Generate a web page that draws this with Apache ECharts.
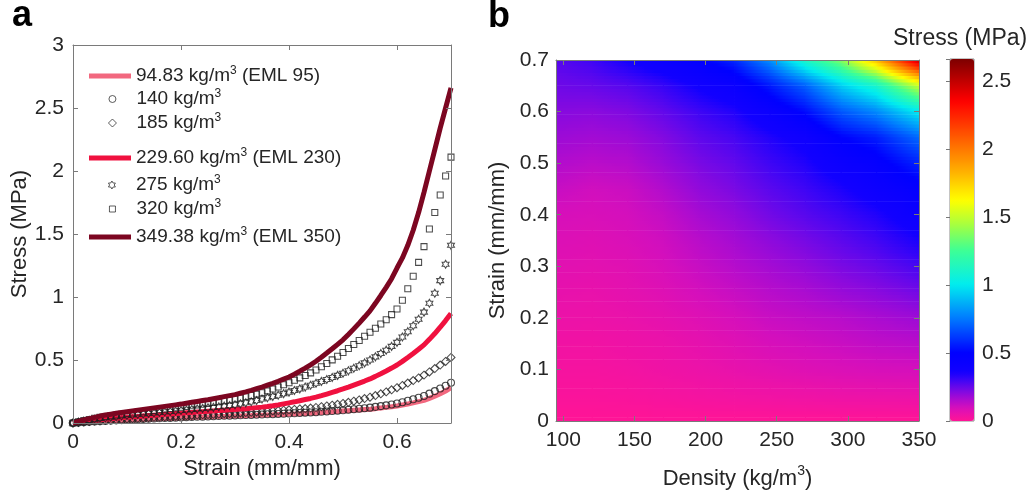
<!DOCTYPE html>
<html><head><meta charset="utf-8">
<script src="https://cdn.jsdelivr.net/npm/echarts@6/dist/echarts.min.js"></script>
<style>html,body{margin:0;padding:0;background:#fff}#c{width:1036px;height:499px}</style>
</head><body><div id="c"></div>
<script>
// ---------- DATA, panel a ----------
const strain = [0,0.01,0.02,0.03,0.04,0.05,0.06,0.07,0.08,0.09,0.1,0.11,0.12,0.13,0.14,0.15,0.16,0.17,0.18,0.19,0.2,0.21,0.22,0.23,0.24,0.25,0.26,0.27,0.28,0.29,0.3,0.31,0.32,0.33,0.34,0.35,0.36,0.37,0.38,0.39,0.4,0.41,0.42,0.43,0.44,0.45,0.46,0.47,0.48,0.49,0.5,0.51,0.52,0.53,0.54,0.55,0.56,0.57,0.58,0.59,0.6,0.61,0.62,0.63,0.64,0.65,0.66,0.67,0.68,0.69,0.7];
const seriesNames = ['94.83 kg/m3 (EML 95)','140 kg/m3','185 kg/m3','229.60 kg/m3 (EML 230)','275 kg/m3','320 kg/m3','349.38 kg/m3 (EML 350)'];
const stress95 = [0,.003,.006,.008,.010,.012,.014,.016,.018,.020,
.022,.024,.026,.027,.029,.031,.033,.035,.036,.038,
.040,.042,.043,.045,.046,.048,.049,.051,.052,.054,
.055,.056,.058,.059,.061,.062,.064,.065,.067,.068,
.070,.072,.074,.076,.078,.080,.083,.086,.089,.092,
.095,.098,.101,.104,.107,.110,.114,.119,.124,.129,
.135,.143,.151,.160,.170,.180,.196,.213,.232,.254,.280];
const stress140 = [0,.003,.006,.009,.012,.014,.016,.019,.021,.023,
.025,.027,.029,.031,.033,.035,.037,.039,.040,.042,
.044,.046,.047,.049,.050,.052,.054,.055,.057,.058,
.060,.061,.063,.064,.066,.067,.069,.070,.072,.073,
.075,.077,.080,.082,.084,.086,.089,.092,.095,.098,
.101,.105,.109,.113,.117,.122,.128,.134,.140,.147,
.155,.165,.176,.188,.201,.215,.233,.253,.274,.296,.320];
const stress185 = [0,.004,.008,.011,.015,.018,.021,.024,.027,.029,
.032,.035,.037,.040,.042,.045,.047,.049,.052,.054,
.056,.058,.060,.063,.065,.067,.069,.071,.074,.076,
.078,.080,.083,.085,.088,.090,.093,.096,.099,.102,
.105,.108,.112,.115,.119,.123,.129,.135,.141,.148,
.155,.164,.173,.183,.194,.205,.218,.232,.247,.263,
.280,.298,.317,.337,.358,.380,.405,.432,.460,.489,.520];
const stress230 = [0,.006,.011,.016,.021,.025,.029,.033,.037,.041,
.045,.049,.052,.056,.059,.062,.065,.069,.072,.075,
.078,.081,.084,.087,.090,.093,.096,.099,.102,.105,
.108,.111,.114,.118,.122,.126,.131,.137,.144,.152,
.160,.168,.177,.186,.195,.205,.217,.230,.243,.256,
.270,.285,.301,.317,.333,.350,.370,.391,.413,.436,
.460,.489,.520,.552,.585,.620,.664,.710,.760,.813,.870];
const stress275 = [0,.008,.015,.022,.029,.035,.040,.045,.050,.055,
.060,.064,.068,.072,.076,.080,.084,.088,.092,.096,
.100,.104,.108,.112,.116,.120,.124,.129,.134,.139,
.145,.152,.160,.169,.179,.190,.200,.210,.221,.233,
.245,.258,.271,.285,.300,.315,.330,.345,.361,.378,
.395,.414,.434,.455,.477,.500,.525,.551,.578,.608,
.640,.683,.725,.772,.824,.880,.950,1.030,1.130,1.260,1.410];
const stress320 = [0,.010,.019,.028,.037,.045,.051,.057,.063,.069,
.075,.080,.085,.090,.095,.100,.105,.110,.115,.120,
.125,.131,.137,.143,.149,.155,.162,.169,.176,.183,
.190,.199,.208,.218,.229,.240,.255,.270,.286,.303,
.320,.339,.358,.377,.398,.420,.446,.473,.501,.530,
.560,.591,.623,.655,.688,.720,.752,.785,.820,.860,
.905,.975,1.065,1.165,1.275,1.400,1.540,1.670,1.810,1.960,2.110];
const stress350 = [0,.012,.024,.035,.045,.055,.063,.070,.077,.084,
.090,.096,.102,.108,.114,.120,.126,.132,.138,.144,
.150,.157,.164,.171,.178,.185,.193,.201,.209,.217,
.225,.236,.247,.259,.272,.285,.300,.315,.331,.348,
.365,.387,.411,.436,.462,.490,.522,.555,.589,.624,
.660,.703,.747,.793,.841,.890,.950,1.012,1.077,1.145,
1.230,1.310,1.410,1.530,1.670,1.830,2.000,2.170,2.340,2.500,2.660];
const xTicksA = [0, 0.2, 0.4, 0.6];

const heatDensity = [95, 120, 145, 170, 195, 220, 245, 270, 295, 320, 350];
const heatStrain = [0, 0.05, 0.1, 0.15, 0.2, 0.25, 0.3, 0.35, 0.4, 0.45, 0.5, 0.55, 0.6, 0.65, 0.7];
const heatAt000 = [0,0,0,0,0,0,0,0,0,0,0];
const heatAt005 = [0.015,0.015,0.018,0.024,0.030,0.035,0.040,0.045,0.050,0.053,0.056];
const heatAt010 = [0.027,0.026,0.032,0.042,0.050,0.060,0.070,0.080,0.088,0.095,0.100];
const heatAt015 = [0.038,0.037,0.045,0.053,0.064,0.078,0.095,0.105,0.117,0.130,0.140];
const heatAt020 = [0.050,0.050,0.056,0.066,0.080,0.097,0.118,0.130,0.142,0.160,0.180];
const heatAt025 = [0.061,0.058,0.067,0.080,0.100,0.120,0.142,0.160,0.185,0.205,0.235];
const heatAt030 = [0.073,0.070,0.077,0.095,0.120,0.145,0.170,0.195,0.225,0.250,0.290];
const heatAt035 = [0.084,0.080,0.090,0.108,0.140,0.168,0.200,0.230,0.262,0.295,0.350];
const heatAt040 = [0.095,0.092,0.100,0.125,0.165,0.195,0.235,0.268,0.300,0.340,0.410];
const heatAt045 = [0.120,0.105,0.115,0.150,0.195,0.225,0.265,0.300,0.345,0.400,0.470];
const heatAt050 = [0.150,0.138,0.148,0.185,0.225,0.255,0.300,0.340,0.410,0.465,0.570];
const heatAt055 = [0.180,0.172,0.182,0.215,0.260,0.290,0.340,0.390,0.500,0.560,0.720];
const heatAt060 = [0.210,0.205,0.220,0.255,0.300,0.340,0.420,0.520,0.680,0.790,1.000];
const heatAt065 = [0.240,0.250,0.270,0.310,0.370,0.420,0.550,0.700,0.930,1.100,1.500];
const heatAt070 = [0.270,0.300,0.360,0.420,0.480,0.580,0.800,1.120,1.380,1.800,2.500];
const colorbarTicks = [0, 0.5, 1, 1.5, 2, 2.5];
const stressMax = 2.66;

// ---------- STYLE ----------
const FONT = '"Liberation Sans", Arial, Helvetica, sans-serif';
const TXT = '#262626';
const AXC = '#7a7a7a';
const lineColors = {0:'#f2687f', 3:'#f0113f', 6:'#7c0621'};
const markerShapes = {1:'circle', 2:'diamond', 4:'path://M0,-10L2.887,-5L8.66,-5L5.774,0L8.66,5L2.887,5L0,10L-2.887,5L-8.66,5L-5.774,0L-8.66,-5L-2.887,-5Z', 5:'rect'};
const markerSizes = {1:7, 2:8, 4:8, 5:6};
const legendCenters = [76, 99, 123, 158, 185, 209, 237];
const cmapStops = [[0,[255,20,150]],[0.05,[236,18,168]],[0.1,[212,15,188]],[0.15,[178,12,205]],[0.2,[142,10,220]],[0.25,[102,8,234]],[0.3,[62,5,245]],[0.36,[18,0,255]],[0.5,[0,0,255]],[0.75,[0,120,255]],[1.0,[0,236,240]],[1.25,[60,255,150]],[1.45,[170,255,60]],[1.62,[255,255,0]],[1.85,[255,170,0]],[2.1,[255,85,0]],[2.35,[255,0,0]],[2.66,[125,0,0]]];
function cmap(v){
  if (v <= cmapStops[0][0]) return 'rgb(' + cmapStops[0][1].join(',') + ')';
  for (let i = 1; i < cmapStops.length; i++){
    if (v <= cmapStops[i][0]){
      const a = cmapStops[i-1], b = cmapStops[i];
      const t = (v - a[0]) / (b[0] - a[0]);
      const c = a[1].map((ch, k) => Math.round(ch + t * (b[1][k] - ch)));
      return 'rgb(' + c.join(',') + ')';
    }
  }
  return 'rgb(' + cmapStops[cmapStops.length-1][1].join(',') + ')';
}
const cbColors = [];
for (let k = 0; k < 80; k++) cbColors.push(cmap(k / 79 * stressMax));

const allStress = [stress95, stress140, stress185, stress230, stress275, stress320, stress350];
const heatRows = [heatAt000, heatAt005, heatAt010, heatAt015, heatAt020, heatAt025, heatAt030, heatAt035, heatAt040, heatAt045, heatAt050, heatAt055, heatAt060, heatAt065, heatAt070];

// ---------- SERIES ----------
const series = [];
allStress.forEach((arr, idx) => {
  const data = strain.map((s, i) => [s, arr[i]]);
  if (lineColors[idx]) {
    series.push({type:'line', name: seriesNames[idx], xAxisIndex:0, yAxisIndex:0, data, showSymbol:false, symbol:'none',
      color: lineColors[idx], lineStyle:{width:5, color: lineColors[idx]}, z: 2 + idx*0.1, emphasis:{disabled:true}});
  } else {
    series.push({type:'scatter', name: seriesNames[idx], xAxisIndex:0, yAxisIndex:0, data,
      symbol: markerShapes[idx], symbolSize: markerSizes[idx], symbolKeepAspect: true,
      itemStyle:{color:'rgba(0,0,0,0)', borderColor:'#1e1e1e', borderWidth:1.05}, z: 2 + idx*0.1, emphasis:{disabled:true}});
  }
});
// map cells: [dLeft, dRight, sLow, sHigh, vLL, vRL, vLH, vRH]
const heatData = [];
for (let j = 0; j < heatStrain.length - 1; j++) {
  for (let i = 0; i < heatDensity.length - 1; i++) {
    heatData.push([heatDensity[i], heatDensity[i+1], heatStrain[j], heatStrain[j+1],
      heatRows[j][i], heatRows[j][i+1], heatRows[j+1][i], heatRows[j+1][i+1]]);
  }
}
const firstD = heatDensity[0], lastD = heatDensity[heatDensity.length - 1];
const lastS = heatStrain[heatStrain.length - 1];
series.push({
  type:'custom', name:'field', xAxisIndex:2, yAxisIndex:2, data: heatData, clip: true, silent: true,
  encode: {x: [0, 1], y: [2, 3]},
  renderItem: function(params, api){
    const cs = params.coordSys;
    const dA = api.value(0), dB = api.value(1), sA = api.value(2), sB = api.value(3);
    const vLL = api.value(4), vRL = api.value(5), vLH = api.value(6), vRH = api.value(7);
    const pA = api.coord([dA, sA]), pB = api.coord([dB, sB]);
    const x0 = dA <= firstD ? cs.x : pA[0];
    const x1 = dB >= lastD ? cs.x + cs.width : Math.min(pB[0] + 0.8, cs.x + cs.width);
    const yBot = pA[1], yTop = sB >= lastS ? cs.y : pB[1];
    const N = 8, hStep = (yBot - yTop) / N;
    const children = [];
    for (let r = 0; r < N; r++) {
      const f = (r + 0.5) / N;
      const vl = vLL + f * (vLH - vLL), vr = vRL + f * (vRH - vRL);
      const stops = [];
      for (let k = 0; k <= 8; k++) { const t = k / 8; stops.push({offset: t, color: cmap(vl + t * (vr - vl))}); }
      const yy = Math.max(yBot - (r + 1) * hStep - 0.6, cs.y);
      children.push({type:'rect', shape:{x:x0, y:yy, width:x1 - x0, height: yBot - r * hStep - yy},
        style:{fill: new echarts.graphic.LinearGradient(0, 0, 1, 0, stops)}});
    }
    return {type:'group', children};
  }
});

// ---------- LEGENDS (panel a, one per row) ----------
function supFmt(name){ return '{t|' + name.replace('kg/m3', 'kg/m}{sup|3}{t|') + '}'; }
const TEXT_START = 136;
const legends = seriesNames.map((nm, idx) => {
  const isLine = !!lineColors[idx];
  const w = isLine ? 42 : markerSizes[idx];
  const left = isLine ? 89 : 112 - w / 2;
  const pad = Math.max(0, TEXT_START - (left + w + 5));
  const rich = {
    p: {width: pad, fontSize: 19, lineHeight: 22},
    t: {fontSize: 19, fontFamily: FONT, color: TXT, lineHeight: 22},
    sup: {fontSize: 12, fontFamily: FONT, color: TXT, lineHeight: 11, verticalAlign: 'top'}
  };
  return {
    left: left, top: legendCenters[idx] - 11, padding: 0, selectedMode: false,
    itemWidth: w, itemHeight: isLine ? 5 : w,
    formatter: n => (pad > 0 ? '{p| }' : '') + supFmt(n),
    textStyle: {rich: rich, fontSize: 19, color: TXT, fontFamily: FONT},
    data: [isLine
      ? {name: nm, icon: 'rect', itemStyle: {color: lineColors[idx], borderWidth: 0}}
      : {name: nm, icon: markerShapes[idx], itemStyle: {color: 'rgba(0,0,0,0)', borderColor: '#1e1e1e', borderWidth: 0.9}}]
  };
});

// ---------- AXES ----------
function ax(o){
  return Object.assign({
    type:'value', splitLine:{show:false}, z: 10,
    axisLine:{show:true, onZero:false, lineStyle:{color:AXC, width:1}},
    axisTick:{show:true, inside:true, length:5, lineStyle:{color:AXC}},
    axisLabel:{show:false}
  }, o);
}
const lbl = (extra) => Object.assign({show:true, color:TXT, fontSize:21, fontFamily:FONT}, extra);
const nameStyle = {fontSize:22, color:TXT, fontFamily:FONT};

const option = {
  animation: false,
  backgroundColor: '#fff',
  textStyle: {fontFamily: FONT, color: TXT},
  title: [
    {text:'a', left: 12, top: -2, padding: 0, textStyle:{fontSize:36, fontWeight:'bold', color:'#000', fontFamily: FONT}},
    {text:'b', left: 488, top: -1, padding: 0, textStyle:{fontSize:36, fontWeight:'bold', color:'#000', fontFamily: FONT}},
    {text:'Stress (MPa)', left: 893, top: 27, padding: 0, textStyle:{fontSize:23, fontWeight:'normal', color:TXT, fontFamily: FONT}}
  ],
  legend: legends,
  grid: [
    {left:73, top:45, width:378, height:378},
    {left:556, top:60, width:363, height:362},
    {left:950, top:59, width:24, height:362, show:true, borderColor:'#8a8a8a', borderWidth:1, backgroundColor:'transparent'}
  ],
  xAxis: [
    ax({gridIndex:0, position:'bottom', min:0, max:0.7, interval:0.2,
        axisLabel: lbl({margin: 9, formatter: v => xTicksA.some(t => Math.abs(t - v) < 1e-9) ? String(v) : ''}),
        name:'Strain (mm/mm)', nameLocation:'middle', nameGap:33, nameTextStyle: nameStyle}),
    ax({gridIndex:0, position:'top', min:0, max:0.7, interval:0.2}),
    ax({gridIndex:1, position:'bottom', min:94.83, max:350, splitNumber:5,
        axisLabel: lbl({margin: 9, formatter: v => (Math.abs(v % 50) < 1e-9) ? String(v) : ''}),
        name:'Density (kg/m{sup|3})', nameLocation:'middle', nameGap:43,
        nameTextStyle: {fontSize:22, color:TXT, fontFamily:FONT, lineHeight:30, rich:{
          sup:{fontSize:14, color:TXT, fontFamily:FONT, lineHeight:10, verticalAlign:'top'}}}}),
    ax({gridIndex:1, position:'top', min:94.83, max:350, splitNumber:5}),
    {type:'value', gridIndex:2, show:false, min:0, max:1}
  ],
  yAxis: [
    ax({gridIndex:0, position:'left', min:0, max:3, interval:0.5,
        axisLabel: lbl({margin: 9}),
        name:'Stress (MPa)', nameLocation:'middle', nameGap:42, nameRotate:90, nameTextStyle: nameStyle}),
    ax({gridIndex:0, position:'right', min:0, max:3, interval:0.5}),
    ax({gridIndex:1, position:'left', min:0, max:0.7, interval:0.1,
        axisLabel: lbl({margin: 7}),
        name:'Strain (mm/mm)', nameLocation:'middle', nameGap:47, nameRotate:90, nameTextStyle: nameStyle}),
    ax({gridIndex:1, position:'right', min:0, max:0.7, interval:0.1}),
    ax({gridIndex:2, position:'right', min:0, max:stressMax, interval:0.5,
        axisLine:{show:false}, axisTick:{show:true, inside:true, length:4, lineStyle:{color:'#777'}},
        axisLabel: lbl({margin: 8, formatter: v => colorbarTicks.some(t => Math.abs(t - v) < 1e-9) ? String(v) : ''})})
  ],
  visualMap: {
    type:'continuous', min:0, max:stressMax, seriesIndex: 7, dimension: 4, calculable:false,
    left:950, top:59, itemWidth:24, itemHeight:362, padding:0, hoverLink:false,
    inRange:{color: cbColors}, textStyle:{color:'transparent'}, text: ['', '']
  },
  series: series
};
const chart = echarts.init(document.getElementById('c'), null, {renderer:'canvas'});
chart.setOption(option);
</script></body></html>
